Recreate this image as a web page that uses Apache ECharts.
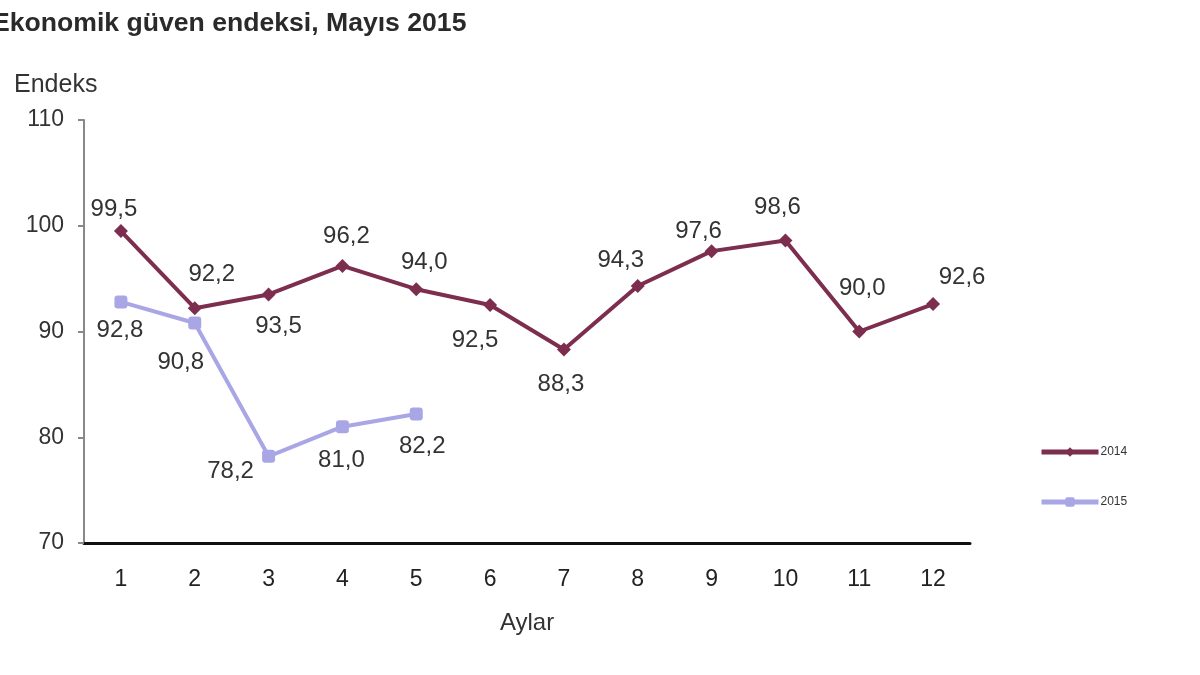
<!DOCTYPE html>
<html>
<head>
<meta charset="utf-8">
<script src="https://cdn.jsdelivr.net/npm/echarts@6/dist/echarts.min.js"></script>
<style>html,body{margin:0;padding:0;background:#fff}#c{width:1200px;height:675px}</style>
</head>
<body>
<div id="c"></div>
<script>
const months = ['1','2','3','4','5','6','7','8','9','10','11','12'];
const values2014 = [99.5, 92.2, 93.5, 96.2, 94.0, 92.5, 88.3, 94.3, 97.6, 98.6, 90.0, 92.6];
const values2015 = [92.8, 90.8, 78.2, 81.0, 82.2];
const yTicks = [70, 80, 90, 100, 110];

// label placement (style only)
const lab2014 = [
  ['top',[-7,2]],['top',[17,-10]],['bottom',[10,8]],['top',[4,-6]],['top',[8,-3]],
  ['bottom',[-15,11]],['bottom',[-3,11]],['top',[-17,-2]],['top',[-13,4]],['top',[-8,-9]],
  ['top',[3,-19]],['top',[29,-3]]
];
const lab2015 = [
  ['bottom',[-1,5]],['bottom',[-14,16]],['bottom',[-38,-8]],['bottom',[-1,10]],['bottom',[6,9]]
];

const fmt = v => v.toFixed(1).replace('.', ',');
function build(vals, labs) {
  return vals.map((v, i) => ({
    value: v,
    label: { position: labs[i][0], offset: labs[i][1] }
  }));
}

const FONT = 'Liberation Sans, Arial, sans-serif';
const chart = echarts.init(document.getElementById('c'));
chart.setOption({
  backgroundColor: '#fff',
  animation: false,
  title: [
    { text: 'Ekonomik güven endeksi, Mayıs 2015', left: -13, top: 5,
      textStyle: { fontFamily: FONT, fontSize: 26.6, fontWeight: 'bold', color: '#2a2a2a' } },
    { text: 'Endeks', left: 9, top: 68,
      textStyle: { fontFamily: FONT, fontSize: 25, fontWeight: 'normal', color: '#333' } }
  ],
  legend: {
    orient: 'vertical', left: 1034, top: 441, itemGap: 38,
    itemWidth: 57, itemHeight: 12,
    lineStyle: { width: 5 },
    textStyle: { fontFamily: FONT, fontSize: 12, color: '#333', padding: [0,0,0,-3] },
    data: ['2014', '2015']
  },
  grid: { left: 84, right: 230, top: 120, bottom: 132 },
  xAxis: {
    type: 'category', data: months, boundaryGap: true,
    name: 'Aylar', nameLocation: 'middle', nameGap: 68,
    nameTextStyle: { fontFamily: FONT, fontSize: 24, color: '#333' },
    axisLine: { lineStyle: { color: '#111', width: 3 } },
    axisTick: { alignWithLabel: true, length: 8, lineStyle: { color: '#111', width: 2 } },
    axisLabel: { margin: 25, fontFamily: FONT, fontSize: 23, color: '#222' }
  },
  yAxis: {
    type: 'value', min: 70, max: 110, interval: 10,
    axisLine: { show: true, lineStyle: { color: '#888', width: 2 } },
    axisTick: { show: true, length: 6, lineStyle: { color: '#888', width: 2 } },
    splitLine: { show: false },
    axisLabel: { margin: 20, fontFamily: FONT, fontSize: 23, color: '#333',
      formatter: v => yTicks.includes(v) ? String(v) : '' }
  },
  series: [
    {
      name: '2014', type: 'line', data: build(values2014, lab2014),
      symbol: 'diamond', symbolSize: 14,
      itemStyle: { color: '#7d2e4e' },
      lineStyle: { color: '#7d2e4e', width: 4 },
      label: { show: true, formatter: p => fmt(p.value), fontFamily: FONT, fontSize: 24, color: '#333' },
      z: 3
    },
    {
      name: '2015', type: 'line', data: build(values2015, lab2015),
      symbol: 'roundRect', symbolSize: 13,
      itemStyle: { color: '#a9a6e6' },
      lineStyle: { color: '#a9a6e6', width: 4 },
      label: { show: true, formatter: p => fmt(p.value), fontFamily: FONT, fontSize: 24, color: '#333' },
      z: 2
    }
  ]
});
</script>
</body>
</html>
